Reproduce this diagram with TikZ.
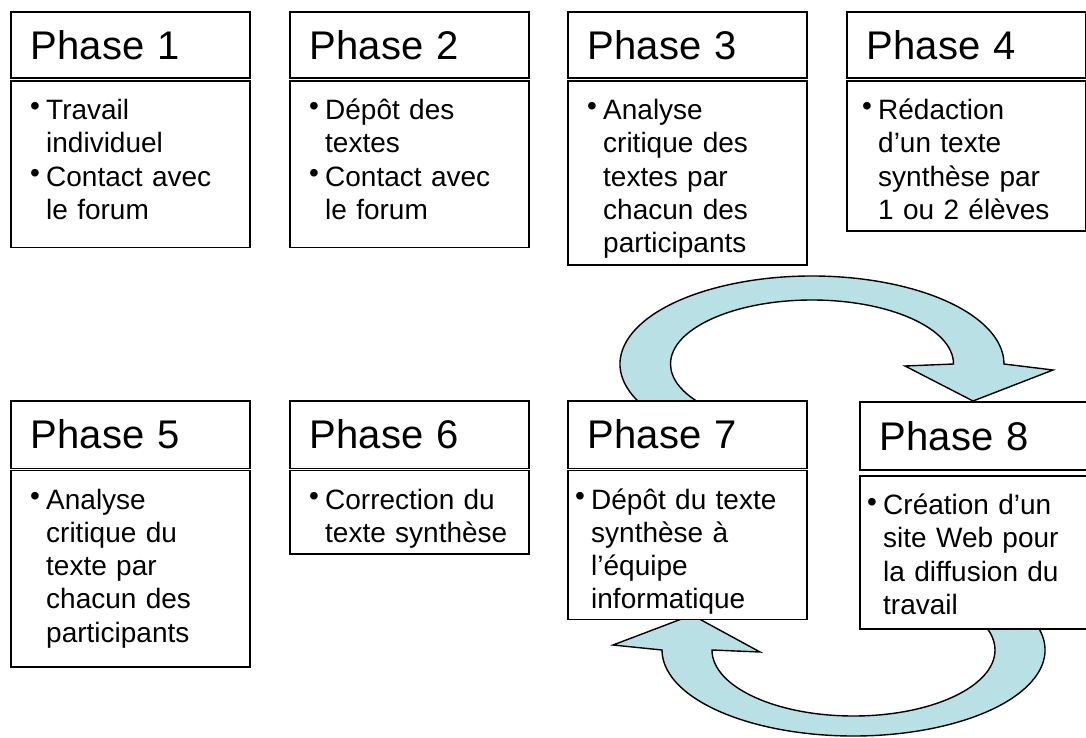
\documentclass[tikz,border=0pt]{standalone}
\usepackage{fontspec}
\setmainfont{Liberation Sans}
\definecolor{loopfill}{RGB}{185,224,228}

% forced line break inside a bullet point
\newcommand\nl{\hfil\break}
% one bullet point with a hanging indent
\newcommand\pitem[1]{\hangindent=16pt\hangafter=1%
  \makebox[16pt][l]{\raisebox{3.5pt}{•}}#1\par}

% a phase: header box, body box and its bullet text
% #1 name, #2 left x, #3 header top, #4 header bottom, #5 body top,
% #6 body bottom, #7 text indent, #8 title, #9 bullet list
\newcommand\phasebox[9]{%
  \node[hdrbox, minimum height={(#4)-(#3)}] (#1h) at (#2,#3) {#8};
  \node[bodybox, minimum height={(#6)-(#5)}] (#1b) at (#2,#5) {};
  \node[bodytext] (#1t) at ([xshift=#7pt, yshift=-39.5pt]#1b.north west) {#9};
}

\tikzset{
  boxline/.style={draw=black, line width=1.8pt, fill=white},
  hdrbox/.style={boxline, anchor=north west, text width=199pt, align=left,
    inner xsep=20pt, inner ysep=0pt, font=\fontsize{40}{48}\selectfont},
  bodybox/.style={boxline, anchor=north west, minimum width=239pt, inner sep=0pt},
  bodytext/.style={anchor=base west, text width=225pt, inner sep=0pt,
    font=\fontsize{28}{33.3}\selectfont},
  looparrow/.style={fill=loopfill, draw=black, line width=1.4pt, line join=miter}
}

\begin{document}
\begin{tikzpicture}[x=1pt, y=-1pt]
  \useasboundingbox (0,0) rectangle (1086,738);
  \clip (0,0) rectangle (1086,738);
  \fill[white] (0,0) rectangle (1086,738);

  % loop from phase 7 over to phase 8
  \draw[looparrow]
    ([shift={(207:192pt and 88pt)}]812,364)
      arc[start angle=207, end angle=0, x radius=192pt, y radius=88pt]
    -- (1053,370) -- (973,401) -- (905,366)
    -- ([shift={(0:141.5pt and 64pt)}]812,364)
      arc[start angle=0, end angle=220, x radius=141.5pt, y radius=64pt]
    -- cycle;

  % loop from phase 8 back to phase 7
  \draw[looparrow]
    ([shift={(21:191.5pt and 86pt)}]853.5,650)
      arc[start angle=21, end angle=-180, x radius=191.5pt, y radius=86pt]
    -- (613,645) -- (692,615) -- (760,652)
    -- ([shift={(180:141.5pt and 66pt)}]853.5,650)
      arc[start angle=180, end angle=390, x radius=141.5pt, y radius=66pt]
    -- cycle;

  % first row
  \phasebox{p1}{10}{11}{77.5}{80}{246.5}{20}{Phase 1}
    {\pitem{Travail\nl individuel}\pitem{Contact avec\nl le forum}}
  \phasebox{p2}{289}{11}{77.5}{80}{246.5}{20}{Phase 2}
    {\pitem{Dépôt des\nl textes}\pitem{Contact avec\nl le forum}}
  \phasebox{p3}{567}{11}{77.5}{80}{264}{20}{Phase 3}
    {\pitem{Analyse\nl critique des\nl textes par\nl chacun des\nl participants}}
  \phasebox{p4}{846}{11}{77.5}{80}{230}{16}{Phase 4}
    {\pitem{Rédaction\nl d’un texte\nl synthèse par\nl 1 ou 2 élèves}}

  % second row
  \phasebox{p5}{10}{400}{467.5}{469.5}{666}{20}{Phase 5}
    {\pitem{Analyse\nl critique du\nl texte par\nl chacun des\nl participants}}
  \phasebox{p6}{289}{400}{467.5}{469.5}{553}{20}{Phase 6}
    {\pitem{Correction du\nl texte synthèse}}
  \phasebox{p7}{567}{400}{467.5}{469.5}{618.5}{8}{Phase 7}
    {\pitem{Dépôt du texte\nl synthèse à\nl l’équipe\nl informatique}}
  \phasebox{p8}{859}{401}{469}{475}{628}{8}{Phase 8}
    {\pitem{Création d’un\nl site Web pour\nl la diffusion du\nl travail}}
\end{tikzpicture}
\end{document}
